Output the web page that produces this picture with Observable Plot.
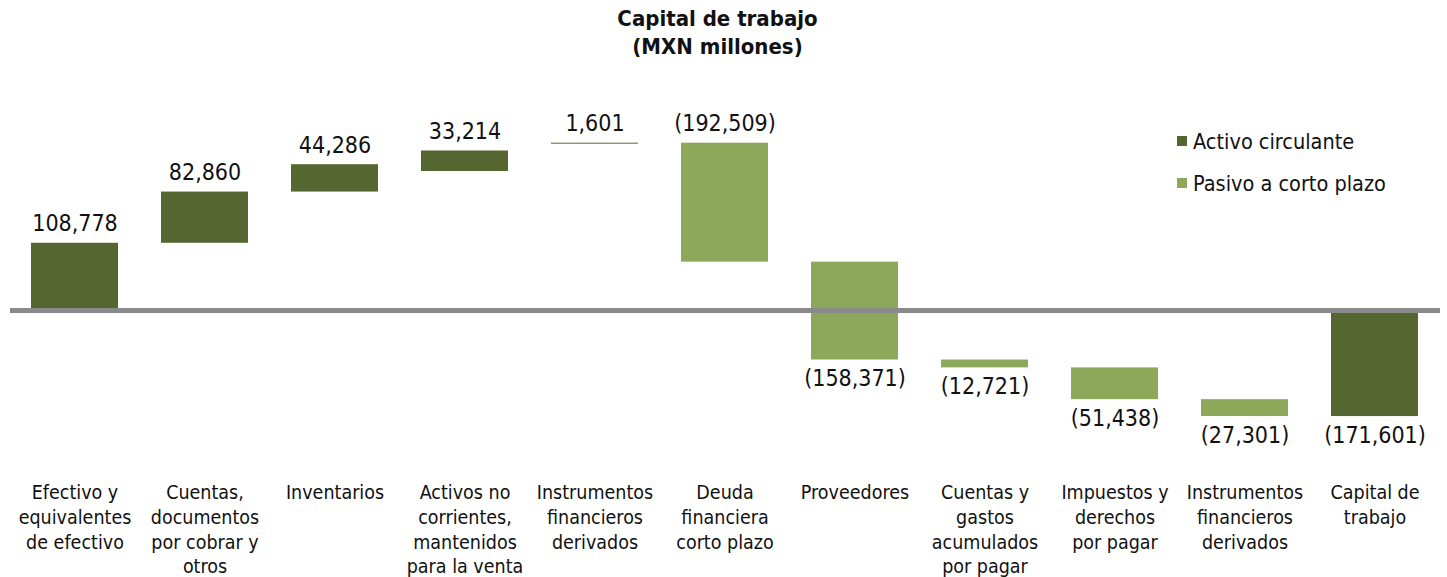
<!DOCTYPE html>
<html>
<head>
<meta charset="utf-8">
<script src="https://cdn.jsdelivr.net/npm/d3@7"></script>
<script src="https://cdn.jsdelivr.net/npm/@observablehq/plot@0.6"></script>
<style>
  body { margin: 0; background: #fff; font-family: "DejaVu Sans Condensed", "DejaVu Sans", sans-serif; font-stretch: condensed; }
  #wrap { position: relative; width: 1447px; height: 577px; }
  #title { height: 70px; box-sizing: border-box; padding-top: 5px; padding-right: 12px; text-align: center; font-weight: bold; font-size: 22px; line-height: 28px; color: #111; }
  #legend { position: absolute; left: 1177px; top: 127px; font-size: 21.5px; color: #111; }
  #legend .item { display: flex; align-items: center; height: 28px; margin-bottom: 14px; }
  #legend .sw { width: 10px; height: 10px; margin-right: 6px; }
</style>
</head>
<body>
<div id="wrap">
  <div id="title">Capital de trabajo<br>(MXN millones)</div>
  <div id="chart"></div>
  <div id="legend"></div>
</div>
<script>
const categories = [
  "Efectivo y\nequivalentes\nde efectivo",
  "Cuentas,\ndocumentos\npor cobrar y\notros",
  "Inventarios",
  "Activos no\ncorrientes,\nmantenidos\npara la venta",
  "Instrumentos\nfinancieros\nderivados",
  "Deuda\nfinanciera\ncorto plazo",
  "Proveedores",
  "Cuentas y\ngastos\nacumulados\npor pagar",
  "Impuestos y\nderechos\npor pagar",
  "Instrumentos\nfinancieros\nderivados",
  "Capital de\ntrabajo"
];
const values = [108778, 82860, 44286, 33214, 1601, -192509, -158371, -12721, -51438, -27301, -171601];
// where each floating bar starts
const barStart = [0, 108778, 191638, 224900, 269138, 270739, 78230, -80141, -92862, -144300, 0];
const groups = ["Activo circulante", "Activo circulante", "Activo circulante", "Activo circulante", "Activo circulante",
  "Pasivo a corto plazo", "Pasivo a corto plazo", "Pasivo a corto plazo", "Pasivo a corto plazo", "Pasivo a corto plazo",
  "Activo circulante"];
const legendNames = ["Activo circulante", "Pasivo a corto plazo"];
const legendColors = ["#556630", "#8DA85B"];

const data = values.map((v, i) => {
  const y1 = barStart[i], y2 = barStart[i] + v;
  const lo = Math.min(y1, y2), hi = Math.max(y1, y2);
  return { i, v, y1, y2, lo, hi, group: groups[i], above: lo >= 0,
    label: v < 0 ? `(${d3.format(",")(-v)})` : d3.format(",")(v) };
});

const chart = Plot.plot({
  width: 1447,
  height: 507,
  marginLeft: 10,
  marginRight: 7,
  marginTop: 0,
  marginBottom: 115,
  style: { fontFamily: '"DejaVu Sans Condensed", "DejaVu Sans", sans-serif', fontStretch: "condensed", color: "#111", background: "white" },
  x: { domain: d3.range(categories.length), paddingInner: 0.33, paddingOuter: 0.165, axis: null },
  y: { domain: [-245955, 388350], axis: null },
  color: { domain: legendNames, range: legendColors },
  marks: [
    Plot.barY(data, { x: "i", y1: "y1", y2: "y2", fill: "group", insetTop: 0, insetBottom: 0 }),
    Plot.ruleY([0], { stroke: "#8a8a8a", strokeWidth: 5 }),
    Plot.text(data.filter(d => d.above), { x: "i", y: "hi", text: "label", dy: -12, lineAnchor: "bottom", fontSize: 23, fill: "#111" }),
    Plot.text(data.filter(d => !d.above), { x: "i", y: "lo", text: "label", dy: 10, lineAnchor: "top", fontSize: 23, fill: "#111" }),
    Plot.axisX({ label: null, tickSize: 0, tickPadding: 19, tickFormat: i => categories[i], fontSize: 19.5, lineHeight: 1.27, lineWidth: Infinity, fill: "#111", textOverflow: null })
  ]
});
document.getElementById("chart").appendChild(chart);

const leg = document.getElementById("legend");
legendNames.forEach((n, k) => {
  const it = document.createElement("div");
  it.className = "item";
  const sw = document.createElement("div");
  sw.className = "sw";
  sw.style.background = legendColors[k];
  const t = document.createElement("span");
  t.textContent = n;
  it.appendChild(sw); it.appendChild(t);
  leg.appendChild(it);
});
</script>
</body>
</html>
